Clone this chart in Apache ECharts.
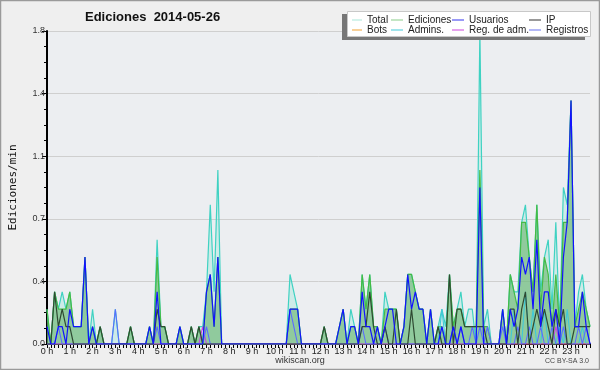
<!DOCTYPE html>
<html>
<head>
<meta charset="utf-8">
<script src="https://cdn.jsdelivr.net/npm/echarts@6.0.0/dist/echarts.min.js"></script>
<style>
  html, body { margin: 0; padding: 0; background: #efefef; }
  #chart { width: 600px; height: 370px; }
</style>
</head>
<body>
<div id="chart"></div>
<script>
// one value every 10 minutes (edits per minute), 0:00 .. 23:50
var hourLabels = ['0 h','1 h','2 h','3 h','4 h','5 h','6 h','7 h','8 h','9 h','10 h','11 h',
  '12 h','13 h','14 h','15 h','16 h','17 h','18 h','19 h','20 h','21 h','22 h','23 h'];
var yTicks = [0, 0.36, 0.72, 1.08, 1.44, 1.8];

var total = [
  0.2,0,0.3,0.2,0.3,0.2,0.3,0.1,0.1,0.1,0.5,0,
  0.2,0,0.1,0,0,0,0.2,0,0,0,0.1,0,
  0,0,0,0.1,0,0.6,0.1,0.1,0,0,0,0.1,
  0,0,0.1,0,0.1,0.1,0.3,0.8,0.3,1.0,0,0,
  0,0,0,0,0,0,0,0,0,0,0,0,
  0,0,0,0,0.4,0.3,0.2,0,0,0,0,0,
  0,0.1,0,0,0,0.1,0.2,0,0.2,0.1,0,0.4,
  0.2,0.4,0.1,0.1,0,0.3,0.2,0.2,0.2,0,0.1,0.4,
  0.4,0.3,0.2,0.2,0,0.2,0,0.1,0.2,0.1,0.4,0.1,
  0.2,0.3,0.1,0.2,0.2,0,1.8,0.1,0.2,0,0,0,
  0.2,0,0.4,0.3,0.3,0.7,0.8,0.5,0.3,0.8,0.3,0.5,
  0.6,0.2,0.7,0.1,0.9,0.8,1.4,0.1,0.3,0.4,0.2,0.1
];
var ediciones = [
  0.2,0,0.3,0.2,0.2,0.2,0.3,0.1,0.1,0.1,0.5,0,
  0.1,0,0.1,0,0,0,0,0,0,0,0.1,0,
  0,0,0,0.1,0,0.5,0.1,0.1,0,0,0,0.1,
  0,0,0.1,0,0.1,0,0.3,0.4,0.1,0.5,0,0,
  0,0,0,0,0,0,0,0,0,0,0,0,
  0,0,0,0,0.2,0.2,0.2,0,0,0,0,0,
  0,0.1,0,0,0,0.1,0.2,0,0.1,0.1,0,0.4,
  0.2,0.4,0.1,0.1,0,0.2,0.2,0.2,0.2,0,0.1,0.4,
  0.4,0.3,0.2,0.2,0,0.2,0,0.1,0.1,0,0.4,0.1,
  0.2,0.2,0.1,0.1,0.1,0.1,1.0,0.1,0.1,0,0,0,
  0.2,0,0.4,0.3,0.2,0.7,0.7,0.5,0.3,0.8,0.2,0.5,
  0.4,0.1,0.4,0.1,0.7,0.7,1.4,0.1,0.2,0.3,0.2,0.1
];
var usuarios = [
  0.1,0,0,0.1,0.1,0,0.2,0.1,0.1,0.1,0.5,0,
  0.1,0,0,0,0,0,0,0,0,0,0,0,
  0,0,0,0.1,0,0.3,0,0,0,0,0,0.1,
  0,0,0,0,0,0,0.3,0.4,0.1,0.5,0,0,
  0,0,0,0,0,0,0,0,0,0,0,0,
  0,0,0,0,0.2,0.2,0.2,0,0,0,0,0,
  0,0,0,0,0,0.1,0.2,0,0.1,0.1,0,0.3,
  0.1,0.1,0,0.1,0,0.1,0.2,0.2,0,0,0.1,0.4,
  0.2,0.3,0.2,0.2,0,0.2,0,0,0.1,0,0,0.1,
  0,0.1,0,0,0,0,0.9,0,0,0,0,0,
  0.2,0,0.2,0.1,0.2,0.5,0.4,0.5,0.2,0.6,0.1,0.3,
  0.3,0.1,0.2,0,0.5,0.7,1.4,0.1,0.1,0.3,0.1,0
];
var ip = [
  0,0,0.3,0.1,0.2,0.1,0.1,0,0,0,0,0,
  0,0,0.1,0,0,0,0,0,0,0,0.1,0,
  0,0,0,0,0,0.2,0.1,0.1,0,0,0,0,
  0,0,0.1,0,0.1,0,0,0,0,0,0,0,
  0,0,0,0,0,0,0,0,0,0,0,0,
  0,0,0,0,0,0,0,0,0,0,0,0,
  0,0.1,0,0,0,0,0,0,0,0,0,0.1,
  0.1,0.3,0.1,0,0,0.1,0,0,0.2,0,0,0,
  0.2,0,0,0,0,0,0,0.1,0,0,0.4,0,
  0.2,0.2,0.1,0.1,0.1,0.1,0.1,0.1,0,0,0,0,
  0,0,0.2,0.2,0,0.2,0.3,0,0.1,0.2,0.1,0.2,
  0.1,0,0.2,0.1,0.2,0,0,0.1,0.1,0.1,0.1,0.1
];
var registros = [
  0,0,0,0.1,0,0,0,0,0,0,0,0,
  0,0,0,0,0,0,0.2,0,0,0,0,0,
  0,0,0,0,0,0.1,0,0,0,0,0,0,
  0,0,0,0,0,0,0.1,0,0,0,0,0,
  0,0,0,0,0,0,0,0,0,0,0,0,
  0,0,0,0,0.2,0.1,0,0,0,0,0,0,
  0,0,0,0,0,0,0,0,0,0,0,0.1,
  0,0,0,0,0,0.1,0,0,0,0,0,0,
  0,0,0,0,0,0,0,0,0,0,0,0.1,
  0,0.1,0,0,0.1,0,0.1,0,0.1,0,0,0,
  0.1,0,0,0,0.1,0,0,0.1,0,0,0.1,0,
  0,0.1,0,0,0.1,0,0,0,0.1,0,0.1,0
];
var admins = [
  0,0,0,0,0,0,0,0,0,0,0,0,
  0,0,0,0,0,0,0,0,0,0,0,0,
  0,0,0,0,0,0,0,0,0,0,0,0,
  0,0,0,0,0,0,0,0,0,0,0,0,
  0,0,0,0,0,0,0,0,0,0,0,0,
  0,0,0,0,0,0,0,0,0,0,0,0,
  0,0,0,0,0,0,0,0,0,0,0,0,
  0,0,0,0,0,0,0,0,0,0,0,0,
  0,0,0,0,0,0,0,0,0.2,0,0,0,
  0,0,0,0,0,0,0,0,0,0,0,0,
  0,0,0,0.2,0,0,0.3,0,0.2,0,0,0.2,
  0,0,0,0.1,0,0.2,0,0,0,0.1,0,0
];
var regAdm = [
  0,0,0,0,0,0,0,0,0,0,0,0,
  0,0,0,0,0,0,0,0,0,0,0,0,
  0,0,0,0,0,0,0,0,0,0,0,0,
  0,0,0,0,0,0.1,0,0,0,0,0,0,
  0,0,0,0,0,0,0,0,0,0,0,0,
  0,0,0,0,0,0,0,0,0,0,0,0,
  0,0,0,0,0,0,0,0,0,0,0,0,
  0,0,0,0,0,0,0,0,0,0,0,0,
  0,0,0,0,0,0,0,0,0,0,0,0,
  0,0,0,0,0,0,0,0,0,0,0,0,
  0,0,0,0,0,0,0,0,0,0,0,0,
  0,0,0.1,0,0,0,0,0,0,0,0,0
];
var bots = [];
for (var b = 0; b < 144; b++) bots.push(0);

// categories: 10-minute slots
var slots = [];
hourLabels.forEach(function(h, k) {
  for (var m = 0; m < 6; m++) slots.push(k + ':' + m + '0');
});

function line(name, data, color, width, area) {
  var s = {
    name: name,
    type: 'line',
    data: data,
    symbol: 'none',
    silent: true,
    lineStyle: { color: color, width: width },
    itemStyle: { color: color }
  };
  if (area) s.areaStyle = { color: area, opacity: 1 };
  return s;
}

var chart = echarts.init(document.getElementById('chart'));
var font = 'Liberation Sans';

function legendCol(left, width, items) {
  return {
    orient: 'vertical',
    left: left,
    top: 15,
    padding: 0,
    itemGap: 0,
    itemWidth: width,
    itemHeight: 1,
    icon: 'rect',
    z: 10,
    selectedMode: false,
    textStyle: { fontFamily: font, fontSize: 10, color: '#222', lineHeight: 9.5 },
    data: items
  };
}

var option = {
  animation: false,
  backgroundColor: '#efefef',
  title: {
    text: 'Ediciones  2014-05-26',
    left: 85,
    top: 11,
    padding: 0,
    textStyle: { fontFamily: font, fontSize: 13, fontWeight: 'bold', color: '#111' }
  },
  legend: [
    legendCol(352, 10, [
      { name: 'Total', itemStyle: { color: '#a8e6d8' } },
      { name: 'Bots', itemStyle: { color: '#f0a030' } }
    ]),
    legendCol(391, 12, [
      { name: 'Ediciones', itemStyle: { color: '#88cc88' } },
      { name: 'Admins.', itemStyle: { color: '#40c8d8' } }
    ]),
    legendCol(452, 12, [
      { name: 'Usuarios', itemStyle: { color: '#3333ee' } },
      { name: 'Reg. de adm.', itemStyle: { color: '#cc44dd' } }
    ]),
    legendCol(529, 12, [
      { name: 'IP', itemStyle: { color: '#333333' } },
      { name: 'Registros', itemStyle: { color: '#6670ee' } }
    ])
  ],
  grid: {
    left: 45,
    right: 10,
    top: 31,
    bottom: 26,
    show: true,
    backgroundColor: '#eceef1',
    borderWidth: 0
  },
  xAxis: {
    type: 'category',
    data: slots,
    boundaryGap: false,
    axisLine: { lineStyle: { color: '#000', width: 2 } },
    axisTick: { interval: 0, length: 4, lineStyle: { color: '#000' } },
    axisLabel: {
      interval: 5,
      margin: 3,
      fontFamily: font,
      fontSize: 9,
      color: '#222',
      formatter: function(v, idx) { return hourLabels[idx / 6]; }
    },
    splitLine: { show: false }
  },
  yAxis: {
    type: 'value',
    min: yTicks[0],
    max: yTicks[yTicks.length - 1],
    interval: yTicks[1],
    axisLine: { show: true, lineStyle: { color: '#000', width: 2 } },
    axisTick: { show: true, length: 5, lineStyle: { color: '#000' } },
    minorTick: { show: true, splitNumber: 4, length: 3, lineStyle: { color: '#000' } },
    axisLabel: {
      margin: 2,
      fontFamily: font,
      fontSize: 9,
      color: '#333',
      formatter: function(v) { return v.toFixed(1); }
    },
    splitLine: { lineStyle: { color: '#cfcfcf', width: 1 } },
    name: 'Ediciones/min',
    nameLocation: 'middle',
    nameRotate: 90,
    nameGap: 28,
    nameTextStyle: { fontFamily: 'DejaVu Sans Mono', fontSize: 11, color: '#111' }
  },
  graphic: [
    { type: 'rect', z: 8, shape: { x: 342, y: 14, width: 243, height: 26 }, style: { fill: '#777' } },
    { type: 'rect', z: 9, shape: { x: 347.5, y: 11.5, width: 243, height: 25 }, style: { fill: '#fff', stroke: '#c8c8c8', lineWidth: 1 } },
    { type: 'text', left: 'center', top: 356, style: { text: 'wikiscan.org', font: '9px "Liberation Sans"', fill: '#333' } },
    { type: 'text', right: 11, top: 358, style: { text: 'CC BY-SA 3.0', font: '7px "Liberation Sans"', fill: '#444' } },
    { type: 'rect', z: 20, silent: true, shape: { x: 0.5, y: 0.5, width: 599, height: 369 }, style: { fill: null, stroke: '#9a9a9a', lineWidth: 1.5 } }
  ],
  series: [
    line('Total', total, '#3fd2c2', 1.2, 'rgba(150,230,215,0.35)'),
    line('Ediciones', ediciones, '#44bb44', 1.2, 'rgba(95,175,95,0.55)'),
    line('Bots', bots, '#f0a030', 1),
    line('Admins.', admins, '#40c8d8', 1.1),
    line('Reg. de adm.', regAdm, '#cc44dd', 1.1),
    line('Registros', registros, '#5a6cff', 1.1),
    line('IP', ip, '#2f4a32', 1.2),
    line('Usuarios', usuarios, '#1212ff', 1.2)
  ]
};
chart.setOption(option);
</script>
</body>
</html>
